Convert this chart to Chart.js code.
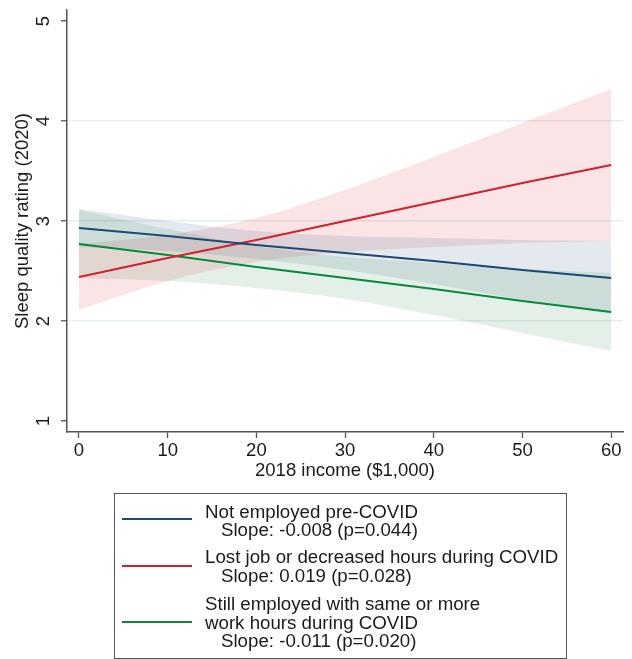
<!DOCTYPE html>
<html>
<head>
<meta charset="utf-8">
<script src="https://cdn.jsdelivr.net/npm/chart.js@4/dist/chart.umd.min.js"></script>
<style>
  html, body { margin: 0; padding: 0; background: #fff; }
  body { width: 632px; height: 659px; position: relative; overflow: hidden;
         font-family: "Liberation Sans", Arial, sans-serif; color: #1a1a1a; }
  #chart { position: absolute; left: 0; top: 0; }
  .legend-box { position: absolute; left: 114px; top: 493px; width: 453px; height: 166px;
                box-sizing: border-box; border: 1.5px solid #555; }
  .swatch { position: absolute; left: 122px; width: 70px; height: 2px; }
  .entry { position: absolute; left: 205px; font-size: 18.7px; line-height: 18.8px; white-space: nowrap; }
  .entry .sub { padding-left: 16px; }
</style>
</head>
<body>
<canvas id="chart" width="632" height="659"></canvas>
<div class="legend-box"></div>
<div id="legend"></div>
<script>
// income in $1,000
const incomeX = [0, 10, 20, 30, 40, 50, 60];

// Not employed pre-COVID
const notEmpFit = [2.93, 2.85, 2.76, 2.68, 2.60, 2.51, 2.43];
const notEmpHi  = [3.12, 3.00, 2.90, 2.85, 2.83, 2.81, 2.80];
const notEmpLo  = [2.74, 2.70, 2.62, 2.51, 2.37, 2.21, 2.07];

// Lost job or decreased hours during COVID
const lostFit = [2.44, 2.63, 2.81, 3.00, 3.19, 3.38, 3.56];
const lostHi  = [2.77, 2.86, 3.03, 3.31, 3.64, 3.98, 4.32];
const lostLo  = [2.11, 2.40, 2.59, 2.69, 2.74, 2.78, 2.80];

// Still employed with same or more hours
const stillFit = [2.77, 2.66, 2.54, 2.43, 2.32, 2.20, 2.09];
const stillHi  = [3.11, 2.92, 2.75, 2.64, 2.58, 2.52, 2.48];
const stillLo  = [2.43, 2.40, 2.33, 2.22, 2.06, 1.88, 1.70];

const xTicks = [0, 10, 20, 30, 40, 50, 60];
const yTicks = [1, 2, 3, 4, 5];
const yGridAt = [2, 3, 4];

const groups = [
    { lines: ["Not employed pre-COVID"], slope: "Slope: -0.008 (p=0.044)",
      color: "#1b4a74", band: "rgba(27,74,116,0.12)", top: 502.5, swatchY: 519 },
    { lines: ["Lost job or decreased hours during COVID"], slope: "Slope: 0.019 (p=0.028)",
      color: "#d1202e", band: "rgba(210,35,42,0.12)", top: 548.2, swatchY: 566 },
    { lines: ["Still employed with same or more", "work hours during COVID"], slope: "Slope: -0.011 (p=0.020)",
      color: "#07893c", band: "rgba(30,130,60,0.12)", top: 594.9, swatchY: 622 },
];

const pts = (ys) => incomeX.map((x, i) => ({ x: x, y: ys[i] }));

const fits = [notEmpFit, lostFit, stillFit];
const his = [notEmpHi, lostHi, stillHi];
const los = [notEmpLo, lostLo, stillLo];

const datasets = [];
groups.forEach((g, i) => {
    datasets.push({
        data: pts(his[i]), borderWidth: 0, pointRadius: 0, fill: "+1",
        backgroundColor: g.band, cubicInterpolationMode: "monotone", order: 2,
    });
    datasets.push({
        data: pts(los[i]), borderWidth: 0, pointRadius: 0, fill: false,
        cubicInterpolationMode: "monotone", order: 2,
    });
});
groups.forEach((g, i) => {
    datasets.push({
        data: pts(fits[i]), borderColor: g.color, borderWidth: 2, pointRadius: 0,
        fill: false, order: 1,
    });
});

const font = { family: "'Liberation Sans', Arial, sans-serif", size: 18.5 };

new Chart(document.getElementById("chart"), {
    type: "line",
    data: { datasets: datasets },
    options: {
        responsive: false,
        animation: false,
        devicePixelRatio: 1,
        layout: { padding: { left: 0, top: 10, right: 9, bottom: 177 } },
        plugins: { legend: { display: false }, tooltip: { enabled: false } },
        scales: {
            x: {
                type: "linear", min: -1.35, max: 61.33,
                afterBuildTicks: (s) => { s.ticks = xTicks.map(v => ({ value: v })); },
                afterFit: (s) => { s.height = 50; s.paddingLeft = 0; s.paddingRight = 0; },
                border: { color: "#555", width: 1.5 },
                grid: { color: "rgba(0,0,0,0)", tickColor: "#555", tickLength: 6, tickWidth: 1.3 },
                ticks: { font: font, color: "#1a1a1a", padding: 2, maxRotation: 0 },
                title: { display: true, text: "2018 income ($1,000)", font: font, color: "#1a1a1a",
                         padding: { top: 0, bottom: 0 } },
            },
            y: {
                type: "linear", min: 0.89, max: 5.11,
                afterBuildTicks: (s) => { s.ticks = yTicks.map(v => ({ value: v })); },
                afterFit: (s) => { s.width = 67; s.paddingTop = 0; s.paddingBottom = 0; },
                border: { color: "#555", width: 1.5 },
                grid: {
                    color: (c) => yGridAt.includes(c.tick && c.tick.value) ? "#e4eff2" : "rgba(0,0,0,0)",
                    lineWidth: 1.5, tickColor: "#555", tickLength: 6, tickWidth: 1.3,
                },
                ticks: { font: font, color: "#1a1a1a", padding: 12, minRotation: 90, maxRotation: 90,
                         crossAlign: "center" },
                title: { display: true, text: "Sleep quality rating (2020)", font: font, color: "#1a1a1a",
                         padding: { top: 12, bottom: 0 } },
            },
        },
    },
});

// legend drawn as html below the plot
const legend = document.getElementById("legend");
groups.forEach((g) => {
    const sw = document.createElement("div");
    sw.className = "swatch";
    sw.style.top = (g.swatchY - 1) + "px";
    sw.style.background = g.color;
    legend.appendChild(sw);

    const e = document.createElement("div");
    e.className = "entry";
    e.style.top = g.top + "px";
    g.lines.forEach((t) => {
        const d = document.createElement("div");
        d.textContent = t;
        e.appendChild(d);
    });
    const s = document.createElement("div");
    s.className = "sub";
    s.textContent = g.slope;
    e.appendChild(s);
    legend.appendChild(e);
});
</script>
</body>
</html>
